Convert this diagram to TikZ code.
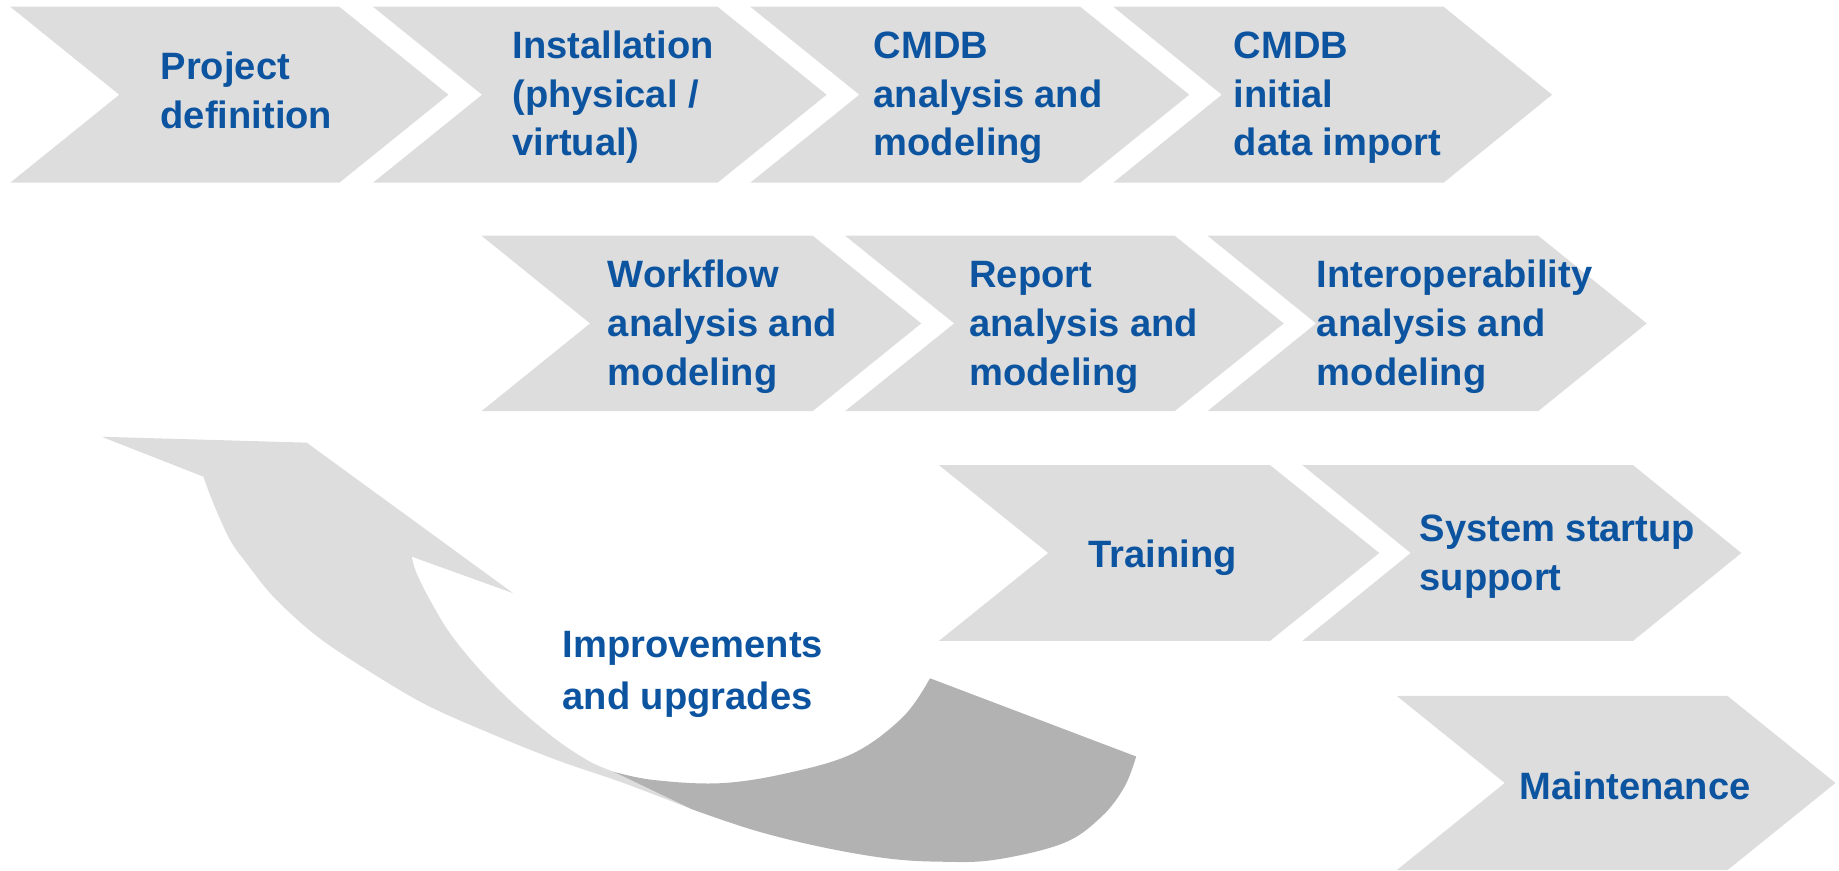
\documentclass[tikz,border=0pt]{standalone}
\usepackage{fontspec}
\setmainfont{Liberation Sans}
\definecolor{chevgray}{RGB}{221,221,221}
\definecolor{foldgray}{RGB}{178,178,178}
\definecolor{txtblue}{RGB}{12,84,160}
\newcommand\chevshape[5]{%
  \fill[chevgray] (#1,#3) -- (#2,#3) -- ({#2+#5},{(#3+#4)/2}) -- (#2,#4) -- (#1,#4) -- ({#1+#5},{(#3+#4)/2}) -- cycle;}
\tikzset{
  lbl/.style={anchor=north west, inner sep=0pt, outer sep=0pt, align=left, text=txtblue,
    font=\bfseries\fontsize{32.5pt}{41.5pt}\selectfont},
  lblwide/.style={lbl, font=\bfseries\fontsize{32.5pt}{44pt}\selectfont}
}
\newcommand\fs{\rule{0pt}{24pt}}
\begin{document}
\begin{tikzpicture}[x=1pt,y=-1pt]
\useasboundingbox (0,0) rectangle (1568,742.6);
% row 1
\chevshape{8.7}{289.3}{5.7}{155.8}{93}
\chevshape{318}{611.8}{5.7}{155.8}{93}
\chevshape{639.7}{921}{5.7}{155.8}{93}
\chevshape{949.2}{1230.8}{5.7}{155.8}{92.5}
% row 2
\chevshape{410.6}{693}{201}{350.5}{92.5}
\chevshape{720.6}{1001.6}{201}{350.5}{93}
\chevshape{1029.6}{1311.6}{201}{350.5}{92.5}
% row 3
\chevshape{800.5}{1082.8}{396.5}{546.5}{93.2}
\chevshape{1110.4}{1392.3}{396.5}{546.5}{92.4}
% row 4
\chevshape{1191}{1473}{593.4}{741.8}{92}
% curved arrow, light front
\fill[chevgray] (86.7,372.4) -- (261.5,377.4) -- (437.6,505.8) -- (351,474.6)
  -- plot[smooth, tension=0.55] coordinates {(351,474.6) (355.2,488.8) (366.6,511.6) (383.7,540) (409.2,571.2) (440.5,602.5) (474.6,630.9) (503,649.4) (522.9,657.9)}
  -- (590,690)
  -- plot[smooth, tension=0.55] coordinates {(590,690) (531.4,667.5) (474.6,648) (417.8,625.2) (360.9,599.7) (304.1,565.6) (267.1,540) (233,508.7) (210.3,480.3) (196.1,460.4) (181.9,429.1) (173.4,406.4)}
  -- cycle;
% curved arrow, dark back
\fill[foldgray] (522.9,657.9)
  -- plot[smooth, tension=0.6] coordinates {(522.9,657.9) (557,665) (613.9,667.8) (670.7,659.3) (727.5,642.3) (770.2,611) (792.9,578.3)}
  -- (968.7,645)
  -- plot[smooth, tension=0.6] coordinates {(968.7,645) (958.9,670.6) (939.3,696.2) (906.7,718.9) (848,733.1) (801.4,734.7) (756,731.8) (699.1,721.9) (642.3,707.7) (590,690)}
  -- cycle;
% texts
\node[lbl] (t1) at (137,44) {\fs Project\\definition};
\node[lbl] (t2) at (437,26) {\fs Installation\\(physical /\\virtual)};
\node[lbl] (t3) at (745,26) {\fs CMDB\\analysis and\\modeling};
\node[lbl] (t4) at (1052,26) {\fs CMDB\\initial\\data import};
\node[lbl] (w) at (518.3,221.5) {\fs Workflow\\analysis and\\modeling};
\node[lbl] (r) at (826.6,221.5) {\fs Report\\analysis and\\modeling};
\node[lbl] (i) at (1122.9,221.5) {\fs Interoperability\\analysis and\\modeling};
\node[lbl] (tr) at (928,459.5) {\fs Training};
\node[lbl] (ss) at (1210.5,438) {\fs System startup\\support};
\node[lbl] (mt) at (1295.8,657.5) {\fs Maintenance};
\node[lblwide] (imp) at (479.7,537) {\fs Improvements\\and upgrades};
\end{tikzpicture}
\end{document}
